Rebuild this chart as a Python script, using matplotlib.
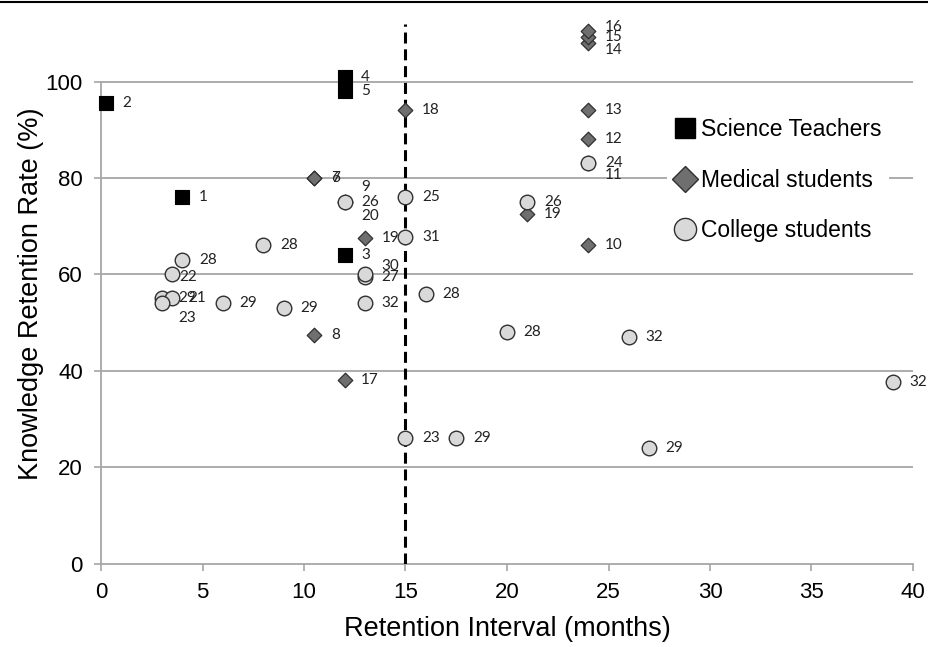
import matplotlib
matplotlib.use("Agg")
import matplotlib.pyplot as plt
from matplotlib.lines import Line2D

# ---------------- data ----------------
teach_x = [4, 0.25, 12, 12, 12]
teach_y = [76, 95.5, 64, 101, 98]
teach_lab = ["1", "2", "3", "4", "5"]

med_x = [10.5, 10.5, 10.5, 12, 24, 24, 24, 24, 24, 24, 24, 12, 15, 13, 21, 12]
med_y = [80, 80, 47.5, 75, 66, 83, 88, 94, 108, 109.2, 110.4, 38, 94, 67.5, 72.5, 75]
med_lab = ["6", "7", "8", "9", "10", "11", "12", "13", "14", "15", "16", "17", "18", "19", "19", "20"]

col_x = [3, 3.5, 3.5, 3, 15, 24, 15, 12, 21, 13, 4, 8, 16, 20, 6, 9, 17.5, 27, 13, 15, 13, 26, 39]
col_y = [55, 55, 60, 54, 26, 83, 76, 75, 75, 59.5, 63, 66, 56, 48, 54, 53, 26, 24, 60, 67.7, 54, 47, 37.7]
col_lab = ["29", "21", "22", "23", "23", "24", "25", "26", "26", "27", "28", "28", "28", "28",
           "29", "29", "29", "29", "30", "31", "32", "32", "32"]

series_names = ["Science Teachers", "Medical students", "College students"]
dashed_x = 15
x_ticks = [0, 5, 10, 15, 20, 25, 30, 35, 40]
y_ticks = [0, 20, 40, 60, 80, 100]

# label offsets (points) -- styling only
DEF = (12, 0)
teach_off = [DEF] * len(teach_x)
med_off = [DEF] * len(med_x)
med_off[3] = (12, 11)     # 9
med_off[5] = (12, -8)     # 11
med_off[8] = (12, -5)     # 14
med_off[10] = (12, 3.5)   # 16
med_off[15] = (12, -10)   # 20
col_off = [DEF] * len(col_x)
col_off[2] = (5, -2)      # 22
col_off[3] = (12, -11)    # 23 (cluster)
col_off[18] = (12, 6)     # 30

# ---------------- figure ----------------
W, H = 929, 647
Y_TOP = 112
fig = plt.figure(figsize=(W / 100, H / 100), dpi=100)
ax_top_px = 563.5 - Y_TOP * 4.82
ax = fig.add_axes([101 / W, 1 - 563.5 / H, (913 - 101) / W, (563.5 - ax_top_px) / H])

AX_FONT = ["Liberation Sans", "DejaVu Sans"]
LAB_FONT = ["Lato", "DejaVu Sans"]
grid_c = "#a6a6a6"

ax.set_xlim(0, 40)
ax.set_ylim(0, Y_TOP)
ax.set_yticks(y_ticks)
ax.set_xticks(x_ticks)
for y in y_ticks[1:]:
    ax.axhline(y, color=grid_c, lw=1.3, zorder=0)

for s in ["top", "right"]:
    ax.spines[s].set_visible(False)
ax.spines["left"].set_bounds(0, 100)
for s in ["left", "bottom"]:
    ax.spines[s].set_color(grid_c)
    ax.spines[s].set_linewidth(1.3)
ax.tick_params(axis="both", direction="out", length=5, width=1.2, color=grid_c,
               labelsize=16, pad=8)
for t in ax.get_xticklabels() + ax.get_yticklabels():
    t.set_family(AX_FONT)

ax.axvline(dashed_x, color="black", lw=2.2, dashes=(3.6, 1.9), zorder=4)

ax.scatter(teach_x, teach_y, marker="s", s=100, c="black", edgecolors="black",
           linewidths=0.8, zorder=5, clip_on=False)
ax.scatter(med_x, med_y, marker="D", s=55, c="#6f6f6f", edgecolors="#303030",
           linewidths=0.9, zorder=5, clip_on=False)
ax.scatter(col_x, col_y, marker="o", s=110, c="#d9d9d9", edgecolors="#303030",
           linewidths=1.0, zorder=6, clip_on=False)

for xs, ys, labs, offs in [(teach_x, teach_y, teach_lab, teach_off),
                           (med_x, med_y, med_lab, med_off),
                           (col_x, col_y, col_lab, col_off)]:
    for x, y, l, o in zip(xs, ys, labs, offs):
        ax.annotate(l, (x, y), xytext=o, textcoords="offset points",
                    ha="left", va="center", fontsize=11, family=LAB_FONT,
                    color="#222222", zorder=7, annotation_clip=False)

ax.set_xlabel("Retention Interval (months)", fontsize=19.5, family=AX_FONT, labelpad=10)
ax.set_ylabel("Knowledge Retention Rate (%)", fontsize=19.5, family=AX_FONT, labelpad=1)

handles = [
    Line2D([], [], ls="none", marker="s", ms=15, mfc="black", mec="black"),
    Line2D([], [], ls="none", marker="D", ms=13, mfc="#6f6f6f", mec="#303030"),
    Line2D([], [], ls="none", marker="o", ms=16, mfc="#d9d9d9", mec="#303030"),
]
leg = ax.legend(handles, series_names, loc="upper left", bbox_to_anchor=(0.683, 0.859),
                frameon=True, facecolor="white", edgecolor="none", framealpha=1,
                prop={"family": AX_FONT, "size": 16.5}, handletextpad=0.2,
                handlelength=1.0, labelspacing=1.2, borderpad=0.3)
leg.set_zorder(10)

fig.add_artist(Line2D([0, 1], [1 - 2 / H, 1 - 2 / H], color="black", lw=1.5,
                      transform=fig.transFigure))

fig.savefig("out.png", dpi=100)
